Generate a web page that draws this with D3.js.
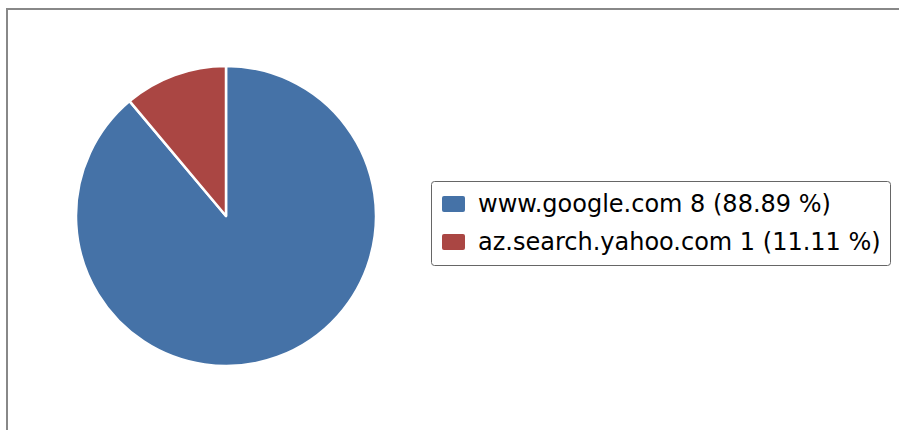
<!DOCTYPE html>
<html><head><meta charset="utf-8">
<script src="https://cdn.jsdelivr.net/npm/d3@7"></script>
<style>body{margin:0;background:#fff}svg{display:block}</style>
</head><body>
<svg id="c" width="899" height="430"></svg>
<script>
const categories = ["www.google.com", "az.search.yahoo.com"];
const values = [8, 1];
const colors = ["#4572A7", "#AA4643"];

const svg = d3.select("#c");
svg.append("rect").attr("x", 7).attr("y", 9).attr("width", 1000).attr("height", 1000)
  .attr("fill", "#fff").attr("stroke", "#888").attr("stroke-width", 2);

const total = d3.sum(values);
const data = categories.map((c, i) => ({name: c, value: values[i], color: colors[i]}));
const pie = d3.pie().sort(null).value(d => d.value);
const arc = d3.arc().innerRadius(0).outerRadius(150);
const g = svg.append("g").attr("transform", "translate(226,216)");
g.selectAll("path").data(pie(data)).join("path")
  .attr("d", arc).attr("fill", d => d.data.color)
  .attr("stroke", "#fff").attr("stroke-width", 2.5).attr("stroke-linejoin", "round");

const lg = svg.append("g").attr("transform", "translate(431,181)");
lg.append("rect").attr("x", 0.5).attr("y", 0.5).attr("width", 459).attr("height", 84).attr("rx", 3)
  .attr("fill", "#fff").attr("stroke", "#666").attr("stroke-width", 1);
const fmt = d3.format(".2f");
const items = lg.selectAll("g.it").data(data).join("g").attr("class", "it")
  .attr("transform", (d, i) => `translate(0,${i * 38})`);
items.append("rect").attr("x", 11).attr("y", 15).attr("width", 23).attr("height", 16).attr("rx", 2)
  .attr("fill", d => d.color);
items.append("text").attr("x", 47).attr("y", 31)
  .attr("font-family", "DejaVu Sans").attr("font-size", 24).attr("fill", "#000")
  .text(d => `${d.name} ${d.value} (${fmt(d.value / total * 100)} %)`);
</script>
</body></html>
